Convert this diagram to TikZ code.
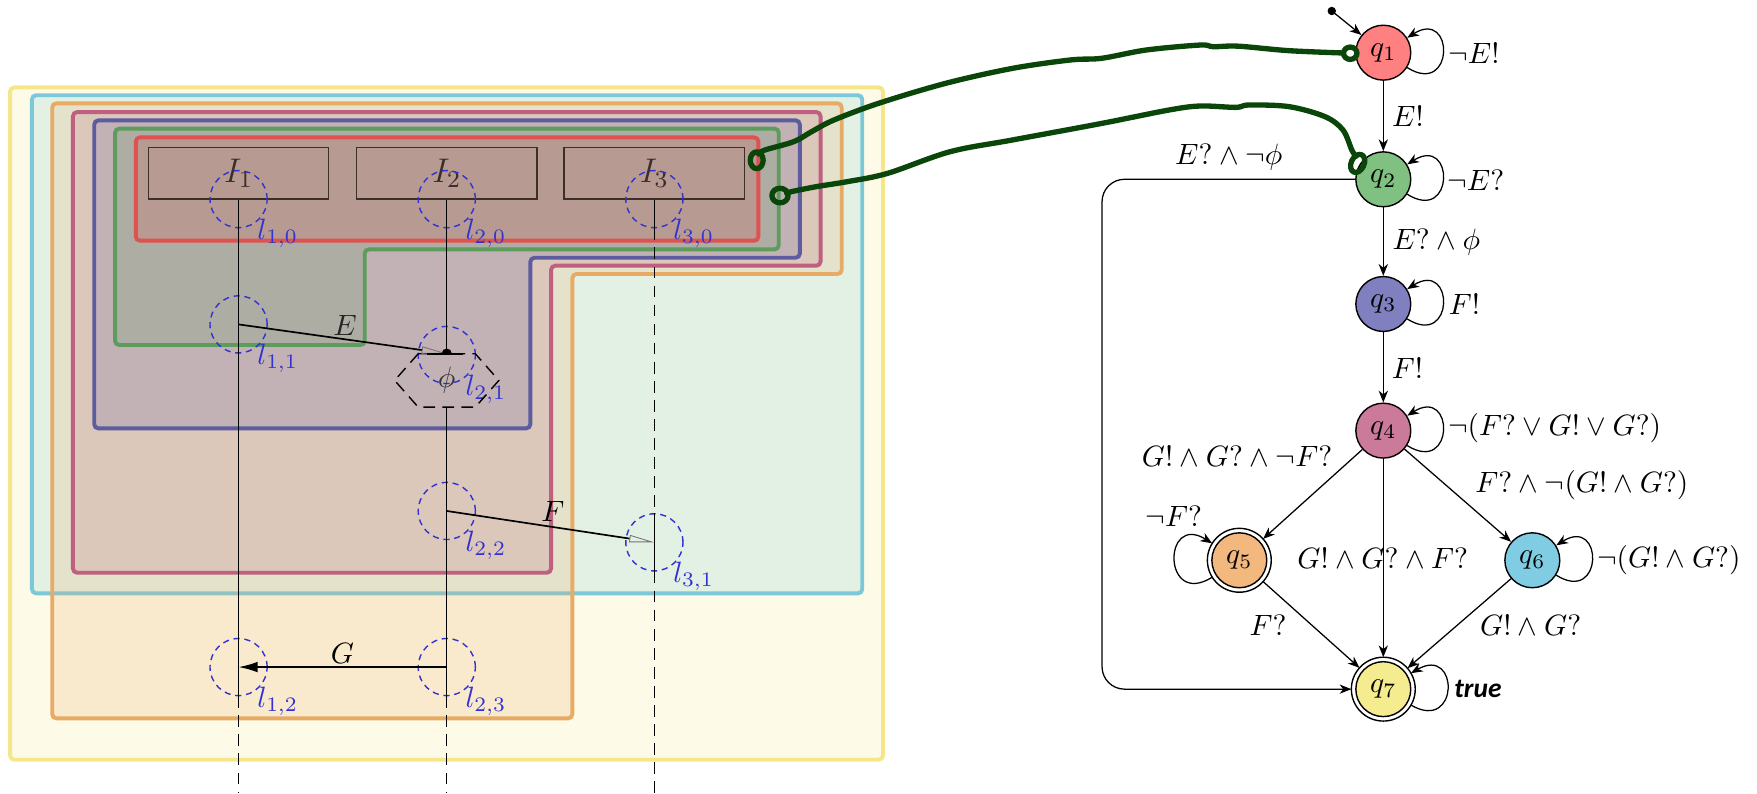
\RequirePackage{fix-cm}
\documentclass[tikz,border=0pt]{standalone}
\usepackage{fontspec}
\newfontfamily\truefont{Carlito}
\usetikzlibrary{arrows.meta}
\definecolor{cyel}{HTML}{F5E68A}
\definecolor{ccya}{HTML}{7CC8D8}
\definecolor{cora}{HTML}{E8AB66}
\definecolor{cpin}{HTML}{C06080}
\definecolor{cblu}{HTML}{5C5C9E}
\definecolor{cgre}{HTML}{5E9C5E}
\definecolor{cred}{HTML}{E0524F}
\definecolor{sqa}{HTML}{FF8080}
\definecolor{sqb}{HTML}{80C080}
\definecolor{sqc}{HTML}{8080C0}
\definecolor{sqd}{HTML}{CC7A99}
\definecolor{sqe}{HTML}{F2B87D}
\definecolor{sqf}{HTML}{80CCE2}
\definecolor{sqg}{HTML}{F5EB8F}
\definecolor{lblue}{HTML}{3232D2}
\definecolor{dbrown}{HTML}{3C2E28}
\definecolor{hgreen}{HTML}{0A460A}
\tikzset{
  every node/.style={font=\fontsize{10.5}{12.6}\selectfont},
  region/.style={line width=1.4pt, rounded corners=1.5pt, fill opacity=0.2},
  ibox/.style={draw=dbrown, line width=0.5pt, minimum width=64.4pt, minimum height=18.4pt, inner sep=0pt, text=dbrown, font=\fontsize{12.2}{14}\selectfont},
  loc/.style={draw=lblue, dash pattern=on 2.2pt off 1.7pt, line width=0.5pt, circle, minimum size=20.4pt, inner sep=0pt},
  loclab/.style={text=lblue, inner sep=0pt},
  life/.style={line width=0.5pt},
  lifedash/.style={line width=0.5pt, dash pattern=on 4.2pt off 2.6pt},
  msgopen/.style={line width=0.6pt, -{Triangle[open, length=9pt, width=2.6pt, line width=0.3pt, color=black!55]}},
  state/.style={circle, draw, line width=0.5pt, minimum size=19.6pt, inner sep=0pt},
  accept/.style={outer sep=1.6pt},
  trans/.style={-{Stealth[length=4.2pt, width=3.3pt, inset=1.3pt]}, line width=0.45pt},
  hand/.style={draw=hgreen, line width=1.9pt, line cap=round, line join=round},
}
\begin{document}
\begin{tikzpicture}[x=0.4pt, y=0.4pt]
\useasboundingbox (0,0) rectangle (1568,-708);

% ---------- nested regions ----------
\filldraw[region, draw=cyel, fill=cyel] (9,-78) rectangle (788,-678);
\filldraw[region, draw=ccya, fill=ccya] (28.5,-85) rectangle (769.5,-529.5);
\filldraw[region, draw=cora, fill=cora] (46.6,-92.2) -- (751.2,-92.2) -- (751.2,-244.5) -- (510.8,-244.5) -- (510.8,-641.1) -- (46.6,-641.1) -- cycle;
\filldraw[region, draw=cpin, fill=cpin] (65.1,-100) -- (732.3,-100) -- (732.3,-237.1) -- (491.8,-237.1) -- (491.8,-511.1) -- (65.1,-511.1) -- cycle;
\filldraw[region, draw=cblu, fill=cblu] (84.1,-107.4) -- (713.8,-107.4) -- (713.8,-230) -- (473.3,-230) -- (473.3,-382.3) -- (84.1,-382.3) -- cycle;
\filldraw[region, draw=cgre, fill=cgre] (102.7,-114.8) -- (695,-114.8) -- (695,-222.5) -- (325.5,-222.5) -- (325.5,-307.9) -- (102.7,-307.9) -- cycle;
\filldraw[region, draw=cred, fill=cred] (121.2,-122.6) rectangle (676.8,-214.8);

% ---------- instances ----------
\node[ibox] (I1) at (212.9,-154.7) {$I_1$};
\node[ibox] (I2) at (398.7,-154.7) {$I_2$};
\node[ibox] (I3) at (584,-154.7) {$I_3$};
\coordinate (bot) at (0,-708);

% locations
\node[loc] (l10) at (212.9,-177.7) {};
\node[loc] (l20) at (398.7,-177.7) {};
\node[loc] (l30) at (584,-177.7) {};
\node[loc] (l11) at (212.9,-289.5) {};
\node[loc] (l21) at (398.7,-316.8) {};
\node[loc] (l22) at (398.7,-456) {};
\node[loc] (l31) at (584,-484) {};
\node[loc] (l12) at (212.9,-595.3) {};
\node[loc] (l23) at (398.7,-595.3) {};
\node[loclab] at ([xshift=14pt,yshift=-12.2pt]l10.center) {$l_{1,0}$};
\node[loclab] at ([xshift=14pt,yshift=-12.2pt]l20.center) {$l_{2,0}$};
\node[loclab] at ([xshift=14pt,yshift=-12.2pt]l30.center) {$l_{3,0}$};
\node[loclab] at ([xshift=14pt,yshift=-12.2pt]l11.center) {$l_{1,1}$};
\node[loclab] at ([xshift=14pt,yshift=-12.2pt]l21.center) {$l_{2,1}$};
\node[loclab] at ([xshift=14pt,yshift=-12.2pt]l22.center) {$l_{2,2}$};
\node[loclab] at ([xshift=14pt,yshift=-12.2pt]l31.center) {$l_{3,1}$};
\node[loclab] at ([xshift=14pt,yshift=-12.2pt]l12.center) {$l_{1,2}$};
\node[loclab] at ([xshift=14pt,yshift=-12.2pt]l23.center) {$l_{2,3}$};

% hexagon (condition phi)
\coordinate (hx) at (398.7,-339.5);
\coordinate (ebar) at (398.7,-315.5);
\coordinate (hxb) at (398.7,-363.3);
\draw[lifedash, shift={(hx)}] (-25.5,23.8) -- (-46.5,0) -- (-25.5,-23.8) -- (25.5,-23.8) -- (46.5,0) -- (25.5,23.8) -- cycle;
\node[text=black!80] (phi) at (hx) {$\phi$};

% lifelines
\draw[life] (I1.south) -- (l12.south);
\draw[lifedash] (l12.south) -- (I1.south |- bot);
\draw[life] (I2.south) -- (ebar);
\draw[life] (hxb) -- (l23.south);
\draw[lifedash] (l23.south) -- (I2.south |- bot);
\draw[life] (I3.south) -- (l30.south);
\draw[lifedash] (l30.south) -- (l31.north);
\draw[life] (l31.north) -- (l31.south);
\draw[lifedash] (l31.south) -- (I3.south |- bot);

% messages
\draw[msgopen] (l11.center) -- (ebar);
\draw[line width=0.7pt] ([xshift=-7.1pt]ebar) -- ([xshift=5.7pt]ebar);
\fill ([xshift=1.8pt]ebar) arc[start angle=0, end angle=180, radius=1.8pt] -- cycle;
\node[text=black!85] (lE) at (308,-290) {$E$};
\draw[msgopen] (l22.center) -- (l31.center);
\node (lF) at (493.3,-456.6) {$F$};
\draw[line width=0.6pt, -{Latex[length=6.8pt, width=3.8pt]}] (l23.center) -- (l12.center);
\node (lG) at (305.5,-583) {$G$};

% ---------- automaton ----------
\node[state, fill=sqa] (q1) at (1234.5,-47) {$q_1$};
\node[state, fill=sqb] (q2) at (1234.5,-160) {$q_2$};
\node[state, fill=sqc] (q3) at (1234.5,-271.3) {$q_3$};
\node[state, fill=sqd] (q4) at (1234.5,-384.3) {$q_4$};
\node[state, accept, fill=sqe] (q5) at (1106,-500) {$q_5$};
\node[state, fill=sqf] (q6) at (1367.5,-500) {$q_6$};
\node[state, accept, fill=sqg] (q7) at (1234.5,-615) {$q_7$};
\draw[line width=0.5pt] (q5.center) circle[radius=11.4pt];
\draw[line width=0.5pt] (q7.center) circle[radius=11.4pt];

\coordinate (ini) at (1188.5,-9.8);
\fill (ini) circle[radius=1.5pt];
\draw[trans] (ini) -- (q1);

\draw[trans] (q1) -- (q2);
\draw[trans] (q2) -- (q3);
\draw[trans] (q3) -- (q4);
\draw[trans] (q4) -- (q5);
\draw[trans] (q4) -- (q6);
\draw[trans] (q4) -- (q7);
\draw[trans] (q5) -- (q7);
\draw[trans] (q6) -- (q7);
\coordinate (c27) at (983.5,-390);
\draw[trans, rounded corners=8pt] (q2.west) -| (c27) |- (q7.west);

% loops
\draw[trans] (q1.-32) .. controls +(-32:20pt) and +(32:20pt) .. (q1.32);
\draw[trans] (q2.-32) .. controls +(-32:20pt) and +(32:20pt) .. (q2.32);
\draw[trans] (q3.-32) .. controls +(-32:20pt) and +(32:20pt) .. (q3.32);
\draw[trans] (q4.-32) .. controls +(-32:20pt) and +(32:20pt) .. (q4.32);
\draw[trans] (q6.-32) .. controls +(-32:20pt) and +(32:20pt) .. (q6.32);
\draw[trans] (q7.-30) .. controls +(-30:20pt) and +(30:20pt) .. (q7.30);
\draw[trans] (q5.-148) .. controls +(-148:21pt) and +(148:21pt) .. (q5.148);

% labels
\node at (1315.4,-47.6) {$\neg E!$};
\node at (1317,-160.6) {$\neg E?$};
\node at (1307,-271.3) {$F!$};
\node at (1387.4,-382.3) {$\neg(F? \vee G! \vee G?)$};
\node at (1489.3,-499.8) {$\neg(G! \wedge G?)$};
\node at (1319,-615.2) {\fontsize{9.8}{11}\selectfont\truefont\bfseries\itshape true};
\node at (1047.5,-461.1) {$\neg F?$};
\node at (1256.5,-104.1) {$E!$};
\node at (1281.8,-215.7) {$E? \wedge \phi$};
\node at (1256,-328.7) {$F!$};
\node at (1096.6,-139.8) {$E? \wedge \neg\phi$};
\node at (1104,-407) {$G! \wedge G? \wedge \neg F?$};
\node at (1411.7,-432.8) {$F? \wedge \neg(G! \wedge G?)$};
\node at (1234,-498.3) {$G! \wedge G? \wedge F?$};
\node at (1131.7,-557.8) {$F?$};
\node at (1366,-557.8) {$G! \wedge G?$};

% ---------- hand-drawn links ----------
\coordinate (hAs) at (675.3,-143);
\coordinate (hAe) at (1205,-47.5);
\coordinate (hBs) at (696.1,-174.5);
\coordinate (hBe) at (1211.6,-145.8);
\draw[hand] plot[smooth, tension=0.55] coordinates {(677,-137.5) (682.5,-133.9) (708.4,-126.4) (724.3,-117.5) (744.2,-107.1) (784.1,-92.2) (843.8,-74.4) (903.6,-61) (955.4,-53.5) (983.3,-52) (1023.1,-44.6) (1071,-40.2) (1082.9,-41.7) (1105,-41.2) (1150,-45.2) (1199,-47.3)};
\draw[hand] plot[smooth, tension=0.55] coordinates {(702,-172.5) (706,-171.1) (728.3,-166.6) (756.2,-162.1) (792.1,-154.7) (847.8,-135.4) (903.6,-124.9) (983.3,-110.1) (1043.1,-98.2) (1071,-94.6) (1102.8,-95.8) (1114.8,-93.7) (1150.6,-95.2) (1182.5,-104.1) (1198.5,-116) (1206.4,-133.9) (1210,-139.5)};
\draw[hand] (hAs) ellipse[x radius=2.3pt, y radius=3pt];
\draw[hand] (hAe) ellipse[x radius=2.4pt, y radius=2.2pt];
\draw[hand] (hBs) ellipse[x radius=2.9pt, y radius=2.6pt];
\draw[hand, rotate around={-25:(hBe)}] (hBe) ellipse[x radius=2.3pt, y radius=3.4pt];
\end{tikzpicture}
\end{document}
